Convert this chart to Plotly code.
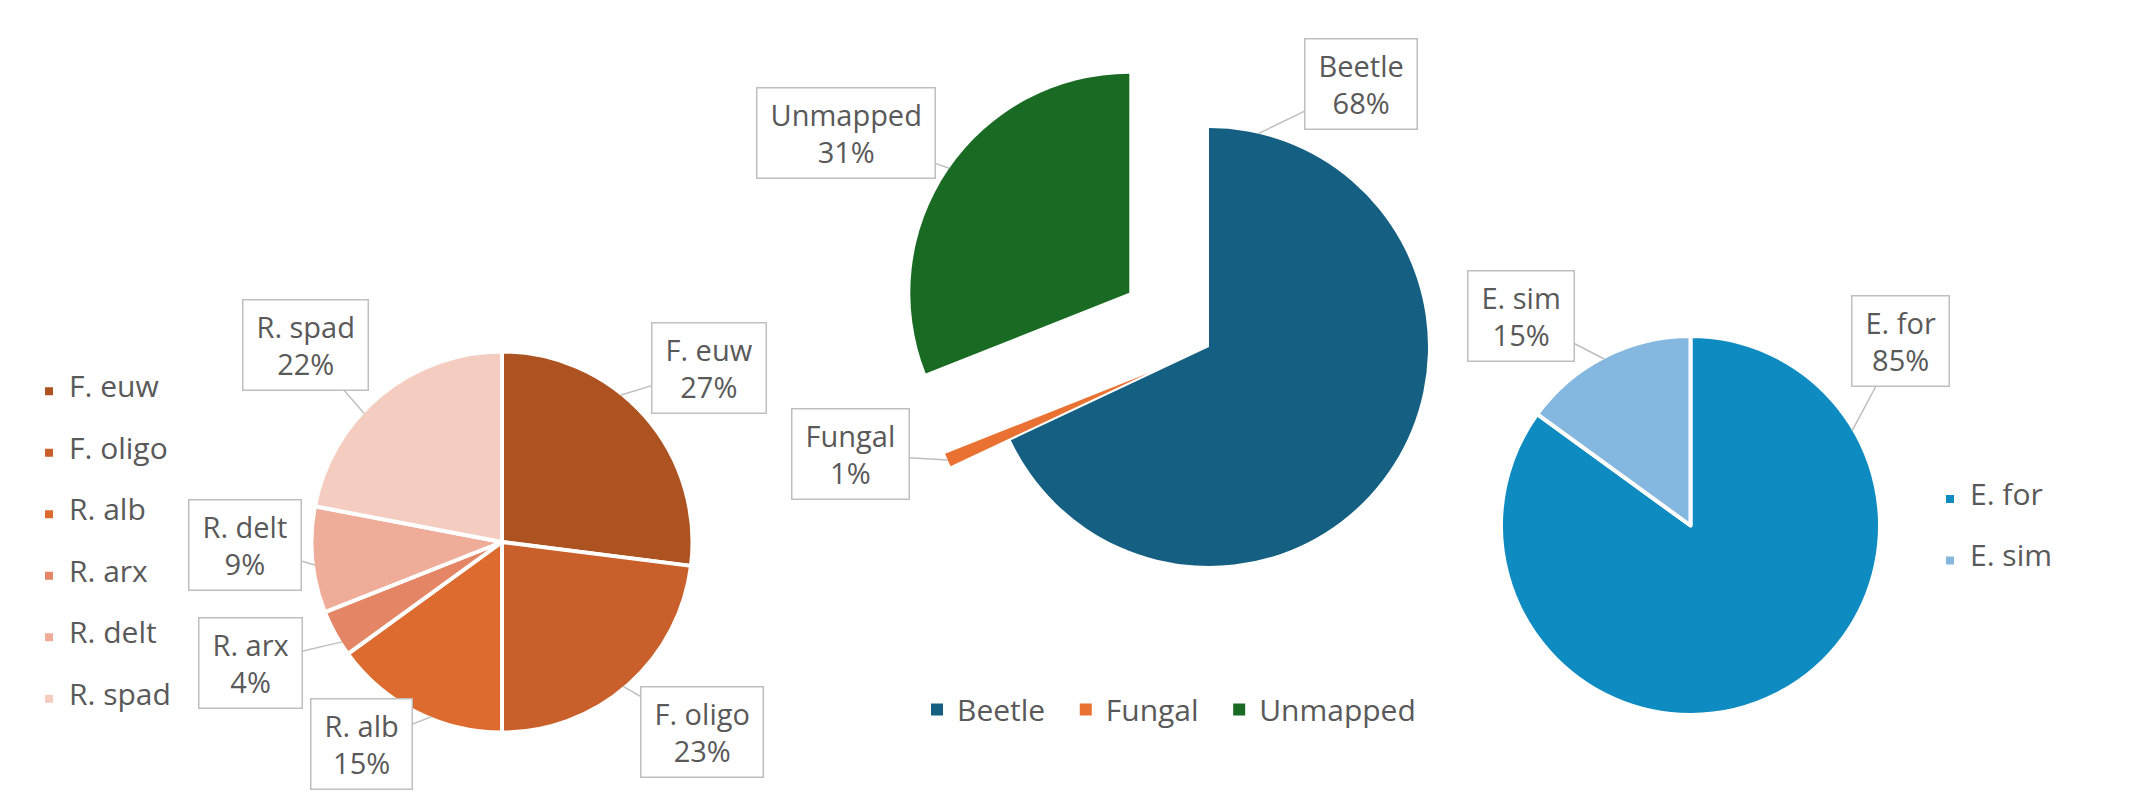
## Three pie charts with callout labels

import math
import plotly.graph_objs as go


## Data

#### Left pie
left_names = ["F. euw", "F. oligo", "R. alb", "R. arx", "R. delt", "R. spad"]
left_values = [27, 23, 15, 4, 9, 22]

#### Middle pie
mid_names = ["Beetle", "Fungal", "Unmapped"]
mid_values = [68, 1, 31]

#### Right pie
right_names = ["E. for", "E. sim"]
right_values = [85, 15]


## Styles
left_colors = ["#AD5322", "#C9602B", "#DD6B30", "#E48565", "#EFAC99", "#F5CCC0"]
mid_colors = ["#156082", "#E97132", "#196B24"]
right_colors = ["#0E8BC0", "#84B8E0"]
mid_pull = [0, 0.3, 0.44]

W, H = 2143, 805
PAGE = 8          # default body margin of the html page
FONT = "Open Sans, Noto Sans, sans-serif"
TEXT_COLOR = "#595959"
BOX_COLOR = "#BFBFBF"
LINE_W = 4

#### Pie centre and visible radius, in page pixels
left_geom = (502, 542, 188.5)
mid_geom = (1209, 347, 219)
right_geom = (1690.5, 525.5, 187.5)

#### Callout boxes: box centre in page pixels and the angle the pointer touches
left_boxes = [(709, 368), (702, 732), (361, 744), (250, 663), (245, 545), (305, 345)]
left_angles = [38.9, 140.0, 202.0, 238.0, 263.0, 313.0]
mid_boxes = [(1361, 84), (850, 454), (846, 133)]
mid_angles = [13.0, None, 304.7]
right_boxes = [(1900, 341), (1521, 316)]
right_angles = [59.6, 332.6]


def legend_label(name):
    # blank lines around the name make the vertical legend rows taller
    return " <br><span style='font-size:30px'>" + name + "</span><br> "


def row_label(name):
    # trailing no-break spaces widen the gap between horizontal legend entries
    return name + "\u00a0\u00a0"


def make_domain(geom, max_pull, line_w):
    cx, cy, r = geom
    R = (r + line_w / 2) * (1 + max_pull)
    cx, cy = cx - PAGE, cy - PAGE
    return {"x": [(cx - R) / W, (cx + R) / W],
            "y": [1 - (cy + R) / H, 1 - (cy - R) / H]}


def callouts(names, values, geom, pulls, boxes, angles):
    total = float(sum(values))
    cx, cy, r = geom
    cx, cy = cx - PAGE, cy - PAGE
    notes = []
    cum = 0.0
    for name, val, pull, box, ang in zip(names, values, pulls, boxes, angles):
        mid = math.radians((cum + val / 2) / total * 360)
        cum += val
        ox = cx + pull * r * math.sin(mid)
        oy = cy - pull * r * math.cos(mid)
        a = mid if ang is None else math.radians(ang)
        tx = ox + r * math.sin(a)
        ty = oy - r * math.cos(a)
        notes.append(dict(
            x=tx / W, y=1 - ty / H, xref="paper", yref="paper",
            ax=(box[0] - PAGE) - tx, ay=(box[1] - PAGE) - ty,
            text=f"{name}<br>{round(val / total * 100)}%",
            showarrow=True, arrowhead=0, arrowwidth=1.5, arrowcolor=BOX_COLOR,
            standoff=0, startstandoff=0,
            height=63, valign="middle",
            bordercolor=BOX_COLOR, borderwidth=1.5, borderpad=13,
            bgcolor="white", font=dict(family=FONT, size=29, color=TEXT_COLOR),
        ))
    return notes


## Traces
trace_left = go.Pie(
    labels=[legend_label(n) for n in left_names],
    values=left_values,
    sort=False, direction="clockwise", rotation=0,
    marker=dict(colors=left_colors, line=dict(color="white", width=LINE_W)),
    textinfo="none",
    hoverinfo="value+percent",
    domain=make_domain(left_geom, 0, LINE_W),
    legend="legend",
)

trace_mid = go.Pie(
    labels=[row_label(n) for n in mid_names],
    values=mid_values,
    sort=False, direction="clockwise", rotation=0,
    pull=mid_pull,
    marker=dict(colors=mid_colors, line=dict(width=0)),
    textinfo="none",
    domain=make_domain(mid_geom, max(mid_pull), 0),
    legend="legend2",
)

trace_right = go.Pie(
    labels=[legend_label(n) for n in right_names],
    values=right_values,
    sort=False, direction="clockwise", rotation=0,
    marker=dict(colors=right_colors, line=dict(color="white", width=LINE_W)),
    textinfo="none",
    hoverinfo="value+percent",
    domain=make_domain(right_geom, 0, LINE_W),
    legend="legend3",
)

annotations = (
    callouts(left_names, left_values, left_geom, [0] * len(left_values), left_boxes, left_angles)
    + callouts(mid_names, mid_values, mid_geom, mid_pull, mid_boxes, mid_angles)
    + callouts(right_names, right_values, right_geom, [0] * len(right_values), right_boxes, right_angles)
)

layout = go.Layout(
    width=W, height=H,
    margin=dict(l=0, r=0, t=0, b=0),
    paper_bgcolor="white",
    plot_bgcolor="white",
    font=dict(family=FONT, color=TEXT_COLOR),
    annotations=annotations,
    legend=dict(
        x=(48 - PAGE - 19) / W, y=0.333, xanchor="left", yanchor="middle",
        font=dict(size=15, color=TEXT_COLOR), orientation="v",
    ),
    legend2=dict(
        x=(936 - PAGE - 19) / W, y=0.1285, xanchor="left", yanchor="middle",
        font=dict(size=30, color=TEXT_COLOR), orientation="h",
    ),
    legend3=dict(
        x=(1949 - PAGE - 19) / W, y=0.352, xanchor="left", yanchor="middle",
        font=dict(size=15, color=TEXT_COLOR), orientation="v",
    ),
)

fig = go.Figure(data=[trace_left, trace_mid, trace_right], layout=layout)

fig.write_html("out.html")
